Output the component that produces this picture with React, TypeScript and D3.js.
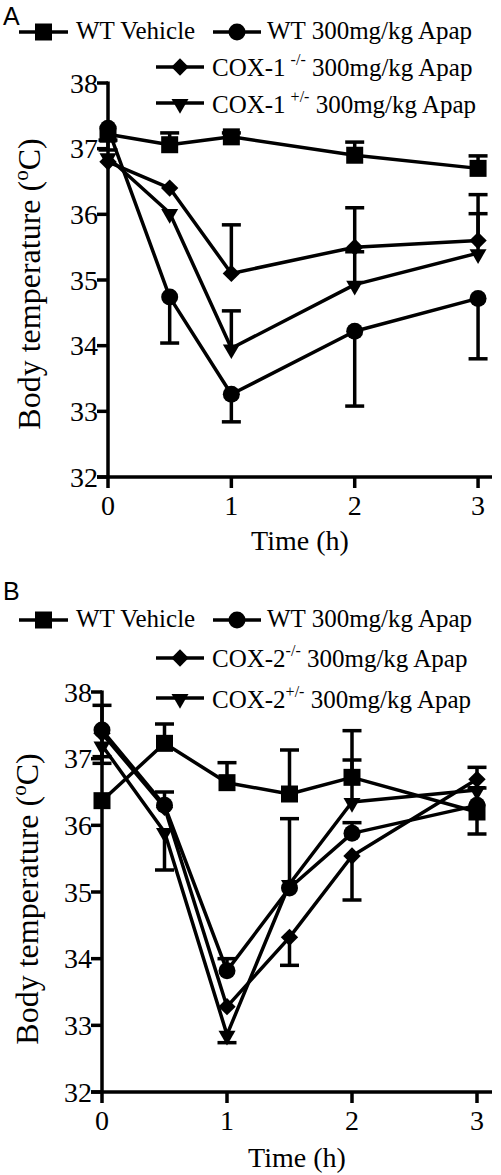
import React from "react";
import * as d3 from "d3";

// ---------- Panel A data ----------
const timeA = [0, 0.5, 1, 2, 3];
const vehA = [37.22, 37.06, 37.18, 36.9, 36.7];
const vehAUp = [0, 0.18, 0.06, 0.2, 0.19];
const vehADown = [0.24, 0, 0, 0, 0];
const wtA = [37.31, 34.74, 33.26, 34.22, 34.72];
const wtAUp = [0, 0, 0, 0, 0];
const wtADown = [0.18, 0.7, 0.42, 1.14, 0.92];
const koA = [36.8, 36.4, 35.1, 35.5, 35.6];
const koAUp = [0, 0, 0.74, 0.6, 0.7];
const koADown = [0, 0, 0, 0, 0];
const hetA = [36.87, 36.02, 33.96, 34.93, 35.41];
const hetAUp = [0, 0, 0.57, 0.5, 0.6];
const hetADown = [0, 0, 0, 0, 0];

// ---------- Panel B data ----------
const timeB = [0, 0.5, 1, 1.5, 2, 3];
const vehB = [36.37, 37.23, 36.64, 36.47, 36.72, 36.2];
const vehBUp = [0, 0.29, 0.3, 0.66, 0.7, 0];
const vehBDown = [0, 0, 0, 0, 0, 0.33];
const wtB = [37.43, 36.3, 33.82, 35.06, 35.88, 36.3];
const wtBUp = [0.37, 0.2, 0.18, 1.04, 0.16, 0.26];
const wtBDown = [0, 0, 0, 0, 0, 0];
const koB = [37.38, 36.27, 33.28, 34.32, 35.54, 36.69];
const koBUp = [0, 0, 0, 0, 0, 0.18];
const koBDown = [0.35, 0, 0, 0.42, 0.66, 0];
const hetB = [37.2, 35.9, 32.86, 35.12, 36.35, 36.53];
const hetBUp = [0, 0, 0, 0, 0.63, 0];
const hetBDown = [0.27, 0.57, 0.12, 0, 0, 0];

const yTicks = [32, 33, 34, 35, 36, 37, 38];
const xTicks = [0, 1, 2, 3];

const SERIF = "'Liberation Serif', 'Times New Roman', serif";
const SANS = "'Liberation Sans', Arial, sans-serif";
const SW = 3.5;

type Marker = "square" | "circle" | "diamond" | "triangle";

function markerPath(m: Marker): string {
  if (m === "square") return d3.symbol(d3.symbolSquare, 289)()!;
  if (m === "circle") return d3.symbol(d3.symbolCircle, 227)()!;
  if (m === "diamond") return d3.symbol(d3.symbolSquare, 150)()!;
  return d3.symbol(d3.symbolTriangle, 125)()!;
}
function markerTransform(m: Marker, x: number, y: number) {
  if (m === "diamond") return `translate(${x},${y}) rotate(45)`;
  if (m === "triangle") return `translate(${x},${y + 1}) rotate(180)`;
  return `translate(${x},${y})`;
}

interface Series {
  marker: Marker;
  vals: number[];
  up: number[];
  down: number[];
}

interface PanelProps {
  letter: string;
  letterY: number;
  time: number[];
  series: Series[];
  left: number;
  top: number;
  bottom: number;
  right: number;
  xMax: number;
  xTickLabelY: number;
  xTitleY: number;
  yTitleX: number;
  yTitleY: number;
  legendRows: number[];
  gene: string;
  supGap: boolean;
}

function Panel(p: PanelProps) {
  const x = d3.scaleLinear().domain([0, p.xMax]).range([p.left, p.right]);
  const y = d3.scaleLinear().domain([32, 38]).range([p.bottom, p.top]);
  const line = d3
    .line<number>()
    .x((_, i) => x(p.time[i]))
    .y((v) => y(v));
  const capW = 9.5;
  const r = p.legendRows;

  const legendMarker = (m: Marker, x1: number, x2: number, ly: number) => (
    <g>
      <line x1={x1} x2={x2} y1={ly} y2={ly} stroke="#000" strokeWidth={SW} />
      <path d={markerPath(m)} transform={markerTransform(m, (x1 + x2) / 2, ly)} fill="#000" />
    </g>
  );

  return (
    <g>
      <text x={3} y={p.letterY} fontFamily={SANS} fontSize={25}>
        {p.letter}
      </text>
      {/* legend */}
      <g fontFamily={SERIF} fontSize={25}>
        {legendMarker("square", 19, 68, r[0] - 7)}
        <text x={76} y={r[0]}>WT Vehicle</text>
        {legendMarker("circle", 213, 261, r[0] - 7)}
        <text x={267} y={r[0]}>WT 300mg/kg Apap</text>
        {legendMarker("diamond", 156, 204, r[1] - 9)}
        <text x={212} y={r[1]}>
          {`COX-${p.gene}`}
          <tspan dx={p.supGap ? 5 : 0} dy={-11} fontSize={16}>
            -/-
          </tspan>
          <tspan dy={11}> 300mg/kg Apap</tspan>
        </text>
        {legendMarker("triangle", 156, 204, r[2] - 10)}
        <text x={212} y={r[2]}>
          {`COX-${p.gene}`}
          <tspan dx={p.supGap ? 5 : 0} dy={-11} fontSize={16}>
            +/-
          </tspan>
          <tspan dy={11}> 300mg/kg Apap</tspan>
        </text>
      </g>
      {/* axes */}
      <g stroke="#000" strokeWidth={SW} fill="none">
        <line x1={p.left} x2={p.left} y1={p.top - 1.5} y2={p.bottom} />
        <line x1={p.left - 11} x2={p.right} y1={p.bottom} y2={p.bottom} />
        {yTicks.map((t) => (
          <line key={t} x1={p.left - 11} x2={p.left} y1={y(t)} y2={y(t)} />
        ))}
        {xTicks.map((t) => (
          <line key={t} x1={x(t)} x2={x(t)} y1={p.bottom} y2={p.bottom + 11} />
        ))}
      </g>
      <g fontFamily={SERIF} fontSize={28}>
        {yTicks.map((t) => (
          <text key={t} x={p.left - 10} y={y(t) + 9.5} textAnchor="end">
            {t}
          </text>
        ))}
        {xTicks.map((t) => (
          <text key={t} x={x(t)} y={p.xTickLabelY} textAnchor="middle">
            {t}
          </text>
        ))}
        <text x={(p.left + p.right) / 2} y={p.xTitleY} textAnchor="middle">
          Time (h)
        </text>
      </g>
      <text
        transform={`translate(${p.yTitleX},${p.yTitleY}) rotate(-90)`}
        textAnchor="middle"
        fontFamily={SERIF}
        fontSize={32}
      >
        Body temperature (
        <tspan dy={-12} fontSize={21}>
          o
        </tspan>
        <tspan dy={12}>C)</tspan>
      </text>
      {/* error bars */}
      <g stroke="#000" strokeWidth={SW}>
        {p.series.map((s, si) =>
          s.vals.map((v, i) => {
            const cx = x(p.time[i]);
            const out: JSX.Element[] = [];
            if (s.up[i] > 0) {
              const ey = y(v + s.up[i]);
              out.push(<line key={`u${si}${i}`} x1={cx} x2={cx} y1={y(v)} y2={ey} />);
              out.push(<line key={`uc${si}${i}`} x1={cx - capW} x2={cx + capW} y1={ey} y2={ey} />);
            }
            if (s.down[i] > 0) {
              const ey = y(v - s.down[i]);
              out.push(<line key={`d${si}${i}`} x1={cx} x2={cx} y1={y(v)} y2={ey} />);
              out.push(<line key={`dc${si}${i}`} x1={cx - capW} x2={cx + capW} y1={ey} y2={ey} />);
            }
            return out;
          })
        )}
      </g>
      {/* lines */}
      {p.series.map((s, si) => (
        <path key={si} d={line(s.vals)!} fill="none" stroke="#000" strokeWidth={SW} strokeLinejoin="round" />
      ))}
      {/* markers */}
      {p.series.map((s, si) =>
        s.vals.map((v, i) => (
          <path
            key={`${si}-${i}`}
            d={markerPath(s.marker)}
            transform={markerTransform(s.marker, x(p.time[i]), y(v))}
            fill="#000"
          />
        ))
      )}
    </g>
  );
}

export default function App() {
  const seriesA: Series[] = [
    { marker: "square", vals: vehA, up: vehAUp, down: vehADown },
    { marker: "circle", vals: wtA, up: wtAUp, down: wtADown },
    { marker: "diamond", vals: koA, up: koAUp, down: koADown },
    { marker: "triangle", vals: hetA, up: hetAUp, down: hetADown },
  ];
  const seriesB: Series[] = [
    { marker: "square", vals: vehB, up: vehBUp, down: vehBDown },
    { marker: "circle", vals: wtB, up: wtBUp, down: wtBDown },
    { marker: "diamond", vals: koB, up: koBUp, down: koBDown },
    { marker: "triangle", vals: hetB, up: hetBUp, down: hetBDown },
  ];
  return (
    <svg
      width={501}
      height={1175}
      style={{ position: "absolute", left: 0, top: 0, background: "#fff" }}
    >
      <rect width={501} height={1175} fill="#fff" />
      <Panel
        letter="A"
        letterY={25}
        time={timeA}
        series={seriesA}
        left={108}
        right={492}
        top={83}
        bottom={477}
        xMax={3.113}
        xTickLabelY={515}
        xTitleY={550}
        yTitleX={40}
        yTitleY={284}
        legendRows={[39, 76, 113]}
        gene="1"
        supGap={true}
      />
      <Panel
        letter="B"
        letterY={600}
        time={timeB}
        series={seriesB}
        left={102}
        right={492}
        top={692}
        bottom={1092}
        xMax={3.12}
        xTickLabelY={1130}
        xTitleY={1167}
        yTitleX={38}
        yTitleY={899}
        legendRows={[627, 667, 708]}
        gene="2"
        supGap={false}
      />
    </svg>
  );
}
